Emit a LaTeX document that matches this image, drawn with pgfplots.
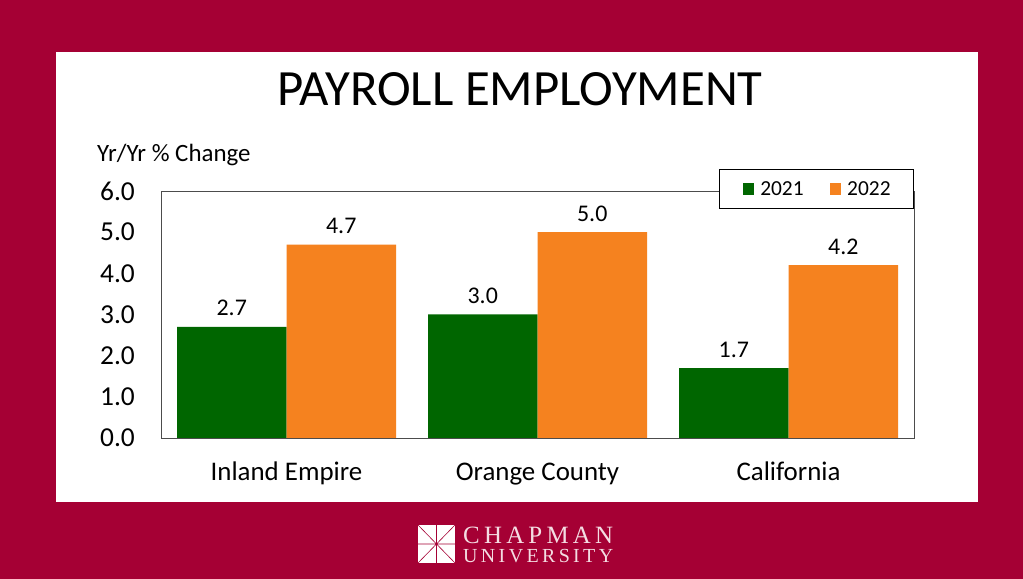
\documentclass[border=0pt]{standalone}
\usepackage{fontspec}
\setmainfont{Carlito}
\newfontfamily\logofont{Liberation Serif}
\usepackage{pgfplots}
\pgfplotsset{compat=1.18}
\definecolor{crimson}{HTML}{A50034}
\definecolor{bargreen}{HTML}{006600}
\definecolor{barorange}{HTML}{F5821F}
\definecolor{logotext}{HTML}{F4DCE2}

\begin{document}
\begin{tikzpicture}[x=1bp,y=1bp]
% slide background and white panel
\fill[crimson] (0,0) rectangle (1023,579);
\fill[white] (56,77) rectangle (978,527);

\node[anchor=base, inner sep=0, font=\fontsize{51}{60}\selectfont] at (520,473) {PAYROLL EMPLOYMENT};
\node[anchor=base west, inner sep=0, font=\fontsize{25}{30}\selectfont] at (97,417) {Yr/Yr \% Change};

\begin{axis}[
  at={(161bp,141bp)}, anchor=south west,
  scale only axis, width=753bp, height=247bp,
  ybar=0pt, bar width=109.5bp,
  xmin=-0.5, xmax=2.5, ymin=0, ymax=6,
  xtick={0,1,2},
  xticklabels={Inland Empire,Orange County,California},
  ytick={0,1,...,6},
  major tick length=0pt,
  axis line style={black!70, line width=0.8bp},
  yticklabel={\pgfmathprintnumber[fixed,fixed zerofill,precision=1,assume math mode=true]{\tick}},
  yticklabel style={font=\fontsize{27.5}{32}\selectfont, anchor=east, inner sep=0pt, xshift=-26bp},
  xticklabel style={font=\fontsize{27}{32}\selectfont, anchor=base, inner sep=0pt, yshift=-43bp},
  nodes near coords={\pgfmathprintnumber[fixed,fixed zerofill,precision=1,assume math mode=true]{\pgfplotspointmeta}},
  nodes near coords style={font=\fontsize{24}{28}\selectfont, anchor=base, inner sep=0pt, yshift=11bp, black},
  legend columns=2,
  legend style={at={(axis description cs:1,1.089)}, anchor=north east,
    draw=black, line width=0.8bp, fill=white,
    font=\fontsize{21.5}{25}\selectfont,
    inner xsep=23bp, inner ysep=12bp,
    nodes={inner sep=0pt},
    /tikz/every even column/.append style={column sep=26bp}},
  legend image code/.code={\fill[#1] (0bp,-5.8bp) rectangle (11.7bp,5.8bp); \path (17.5bp,0bp);},
]
\addplot[fill=bargreen, draw=none] coordinates {(0,2.7) (1,3.0) (2,1.7)};
\addplot[fill=barorange, draw=none] coordinates {(0,4.7) (1,5.0) (2,4.2)};
\legend{2021,2022}
\end{axis}

% university logo
\fill[white] (418,16) rectangle (455,54);
\draw[crimson, line width=0.6bp] (418,16) -- (455,54) (418,54) -- (455,16)
  (436.5,16) -- (436.5,54) (418,35) -- (455,35);
\node[anchor=base west, inner sep=0, text=logotext, font=\logofont\fontsize{25}{28}\selectfont] at (463,35)
  {\makebox[150bp][s]{C\hfill H\hfill A\hfill P\hfill M\hfill A\hfill N}};
\node[anchor=base west, inner sep=0, text=logotext, font=\logofont\fontsize{20}{24}\selectfont] at (463,16)
  {\makebox[150bp][s]{U\hfill N\hfill I\hfill V\hfill E\hfill R\hfill S\hfill I\hfill T\hfill Y}};
\end{tikzpicture}
\end{document}
